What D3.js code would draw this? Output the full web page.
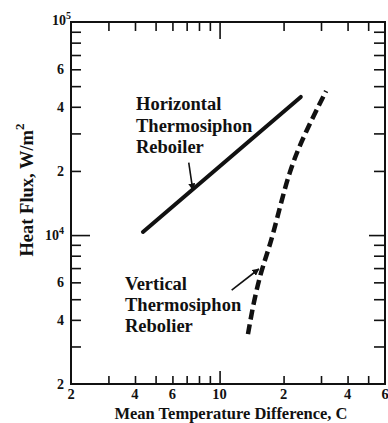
<!DOCTYPE html>
<html><head><meta charset="utf-8">
<script src="https://cdn.jsdelivr.net/npm/d3@7"></script>
<style>
html,body{margin:0;padding:0;background:#fff;}
svg{display:block;}
text{font-family:"Liberation Serif","Times New Roman",serif;font-weight:bold;fill:#111;}
</style></head>
<body>
<svg id="c" width="388" height="423"></svg>
<script>
// ---- data ----
const xDomain = [2, 60];
const yDomain = [2000, 100000];
const xMinorTicks = [3,4,5,6,7,8,9,20,30,40,50];
const xMajorTicks = [10];
const xLabelValues = [2,4,6,10,20,40,60];
const xLabelTexts = ["2","4","6","10","2","4","6"];
const yMinorTicks = [3000,4000,5000,6000,7000,8000,9000,20000,30000,40000,50000,60000,70000,80000,90000];
const yMajorTicks = [10000];
const yLabelValues = [2000,4000,6000,10000,20000,40000,60000,100000];
const yLabelTexts = ["2","4","6","10|4","2","4","6","10|5"];

const horizX = [4.36, 24.1];
const horizY = [10340, 44500];
const vertX = [13.6, 14.5, 15.7, 16.9, 18.0, 19.4, 21.2, 23.6, 27.5, 31.7];
const vertY = [3430, 4910, 6780, 8420, 10450, 14000, 19400, 25900, 35800, 47400];

const horizArrowX = [7.16, 7.48];
const horizArrowY = [21900, 16300];
const vertArrowX = [11.4, 15.3];
const vertArrowY = [5520, 6930];

const horizLabel = ["Horizontal","Thermosiphon","Reboiler"];
const vertLabel = ["Vertical","Thermosiphon","Rebolier"];
const xTitle = "Mean Temperature Difference, C";

// ---- layout ----
const L = 71, R = 385, T = 22, B = 384;
const svg = d3.select("#c");
const x = d3.scaleLog().domain(xDomain).range([L, R]);
const y = d3.scaleLog().domain(yDomain).range([B, T]);

const defs = svg.append("defs");
defs.append("marker").attr("id","ah").attr("viewBox","0 0 10 10")
  .attr("refX",9).attr("refY",5).attr("markerWidth",4.5).attr("markerHeight",4.5)
  .attr("orient","auto").attr("markerUnits","strokeWidth")
  .append("path").attr("d","M0,0 L10,5 L0,10 z").attr("fill","#111");

// frame
svg.append("rect").attr("x",L).attr("y",T).attr("width",R-L).attr("height",B-T)
  .attr("fill","none").attr("stroke","#111").attr("stroke-width",2);

function styleAxis(g){ g.select(".domain").remove(); g.selectAll("line").attr("stroke","#111").attr("stroke-width",1.6); g.selectAll("text").remove(); }

// ticks (inward)
svg.append("g").attr("transform",`translate(0,${B})`).call(d3.axisBottom(x).tickValues(xMinorTicks).tickSizeInner(-8).tickSizeOuter(0)).call(styleAxis);
svg.append("g").attr("transform",`translate(0,${B})`).call(d3.axisBottom(x).tickValues(xMajorTicks).tickSizeInner(-13).tickSizeOuter(0)).call(styleAxis);
svg.append("g").attr("transform",`translate(0,${T})`).call(d3.axisTop(x).tickValues(xMinorTicks).tickSizeInner(-9).tickSizeOuter(0)).call(styleAxis);
svg.append("g").attr("transform",`translate(0,${T})`).call(d3.axisTop(x).tickValues(xMajorTicks).tickSizeInner(-17).tickSizeOuter(0)).call(styleAxis);
svg.append("g").attr("transform",`translate(${L},0)`).call(d3.axisLeft(y).tickValues(yMinorTicks).tickSizeInner(-10).tickSizeOuter(0)).call(styleAxis);
svg.append("g").attr("transform",`translate(${L},0)`).call(d3.axisLeft(y).tickValues(yMajorTicks).tickSizeInner(-19).tickSizeOuter(0)).call(styleAxis);
svg.append("g").attr("transform",`translate(${R},0)`).call(d3.axisRight(y).tickValues(yMinorTicks).tickSizeInner(-11).tickSizeOuter(0)).call(styleAxis);
svg.append("g").attr("transform",`translate(${R},0)`).call(d3.axisRight(y).tickValues(yMajorTicks).tickSizeInner(-16).tickSizeOuter(0)).call(styleAxis);

// x labels
svg.append("g").selectAll("text").data(xLabelValues).join("text")
  .attr("x", d => x(d)).attr("y", B + 15).attr("text-anchor","middle")
  .attr("font-size",14.5).text((d,i) => xLabelTexts[i]);
// y labels
const yl = svg.append("g").selectAll("text").data(yLabelValues).join("text")
  .attr("x", (d,i) => i === yLabelValues.length-1 ? L : L - 7)
  .attr("y", (d,i) => i === yLabelValues.length-1 ? y(d) + 3 : y(d) + 5)
  .attr("text-anchor","end").attr("font-size",14);
yl.each(function(d,i){
  const parts = yLabelTexts[i].split("|");
  const t = d3.select(this);
  t.append("tspan").text(parts[0]);
  if(parts[1]) t.append("tspan").attr("dy",-6).attr("font-size",10).text(parts[1]);
});

// axis titles
svg.append("text").attr("x", 231).attr("y", 419).attr("text-anchor","middle")
  .attr("font-size",16.5).text(xTitle);
const yt = svg.append("text").attr("transform",`translate(33,${190}) rotate(-90)`)
  .attr("text-anchor","middle").attr("font-size",18.5);
yt.append("tspan").text("Heat Flux, W/m");
yt.append("tspan").attr("dy",-9).attr("font-size",13).text("2");

// series
const line = d3.line().x(d => x(d[0])).y(d => y(d[1]));
svg.append("path").datum(horizX.map((v,i)=>[v,horizY[i]]))
  .attr("d", line).attr("fill","none").attr("stroke","#111").attr("stroke-width",4).attr("stroke-linecap","round");
const smooth = d3.line().x(d => x(d[0])).y(d => y(d[1])).curve(d3.curveBasis);
svg.append("path").datum(vertX.map((v,i)=>[v,vertY[i]]))
  .attr("d", smooth).attr("fill","none").attr("stroke","#111")
  .attr("stroke-width",4.5).attr("stroke-dasharray","10,5");

// annotation arrows
svg.append("path").datum(horizArrowX.map((v,i)=>[v,horizArrowY[i]]))
  .attr("d", line).attr("stroke","#111").attr("stroke-width",1.6).attr("fill","none").attr("marker-end","url(#ah)");
svg.append("path").datum(vertArrowX.map((v,i)=>[v,vertArrowY[i]]))
  .attr("d", line).attr("stroke","#111").attr("stroke-width",1.6).attr("fill","none").attr("marker-end","url(#ah)");

// annotation text
svg.append("g").selectAll("text").data(horizLabel).join("text")
  .attr("x",136).attr("y",(d,i)=>110 + i*21.5).attr("font-size",18.5).text(d=>d);
svg.append("g").selectAll("text").data(vertLabel).join("text")
  .attr("x",125).attr("y",(d,i)=>290 + i*21).attr("font-size",18.5).text(d=>d);
</script>
</body></html>
